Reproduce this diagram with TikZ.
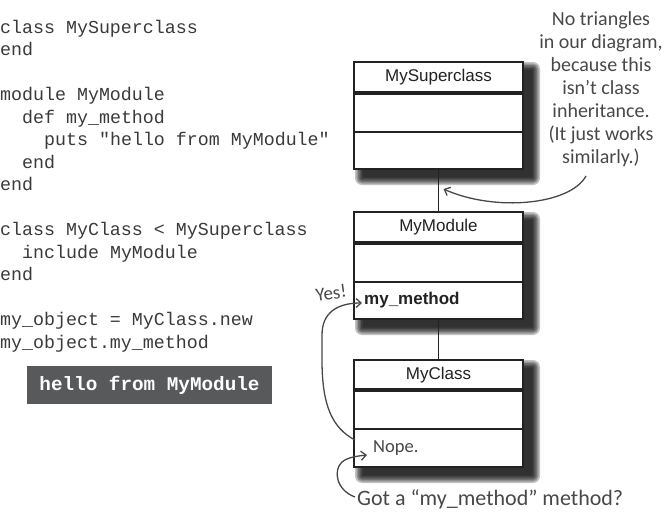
\documentclass[tikz,border=0pt]{standalone}
\usepackage{fontspec}
\setmainfont{Liberation Sans}
\newfontfamily\codefont{Liberation Mono}
\newfontfamily\handfont{Carlito}
\usetikzlibrary{arrows.meta,backgrounds}
\definecolor{ink}{HTML}{222222}
\definecolor{codeink}{HTML}{3A3A3A}
\definecolor{hand}{HTML}{484848}
\definecolor{outbox}{HTML}{58595B}
\tikzset{
  umlbox/.style={draw=ink, line width=2pt, fill=white, minimum width=169pt,
    minimum height=107pt, anchor=north west, inner sep=0pt},
  boxtitle/.style={font=\fontsize{17}{20}\selectfont, text=ink, inner sep=0pt},
  thickrule/.style={draw=ink, line width=4pt},
  thinrule/.style={draw=ink, line width=1.5pt},
  codeline/.style={anchor=base west, inner sep=0pt, font=\codefont\fontsize{18.3}{22.5}\selectfont, text=codeink},
  note/.style={font=\handfont\fontsize{20}{23}\selectfont, text=hand, align=center, inner sep=0pt},
  handarrow/.style={draw=hand, line width=1.3pt, -{Straight Barb[length=5pt,width=9pt]}},
  link/.style={draw=ink, line width=1.5pt},
  shadowlayer/.style={fill=black, opacity=0.24, rounded corners=#1},
}
\newcommand\boxshade[1]{%
  \foreach \d in {7,5.5,4,2.5,1,-0.5}{%
    \fill[shadowlayer=\d pt] ([shift={(9pt-\d pt,-8pt+\d pt)}]#1.north west)
      rectangle ([shift={(9pt+\d pt,-8pt-\d pt)}]#1.south east);
  }%
}
\begin{document}
\begin{tikzpicture}[x=1pt,y=1pt]
\useasboundingbox (0,0) rectangle (665,-520);

% code listing
\node[codeline] (c1) at (0,-33) {class MySuperclass};
\node[codeline] (c2) at (0,-55.5) {end};
\node[codeline] (c3) at (0,-100.5) {module MyModule};
\node[codeline] (c4) at (22,-123) {def my\_method};
\node[codeline] (c5) at (44,-145.5) {puts "hello from MyModule"};
\node[codeline] (c6) at (22,-168) {end};
\node[codeline] (c7) at (0,-190.5) {end};
\node[codeline] (c8) at (0,-235.5) {class MyClass < MySuperclass};
\node[codeline] (c9) at (22,-258) {include MyModule};
\node[codeline] (c10) at (0,-280.5) {end};
\node[codeline] (c11) at (0,-325.5) {my\_object = MyClass.new};
\node[codeline] (c12) at (0,-348) {my\_object.my\_method};

% output
\node[fill=outbox, minimum width=245pt, minimum height=38pt, inner sep=0pt, text=white,
  font=\codefont\bfseries\fontsize{19.3}{22}\selectfont] (out) at (149.5,-385) {hello from MyModule};

% UML boxes
\node[umlbox] (sup) at (353,-61) {};
\draw[thickrule] ([yshift=-31.5pt]sup.north west) -- ([yshift=-31.5pt]sup.north east);
\draw[thinrule] ([yshift=-71pt]sup.north west) -- ([yshift=-71pt]sup.north east);
\node[boxtitle] (supt) at ([yshift=-16pt]sup.north) {MySuperclass};

\node[umlbox] (mod) at (353,-211) {};
\draw[thickrule] ([yshift=-32pt]mod.north west) -- ([yshift=-32pt]mod.north east);
\draw[thinrule] ([yshift=-71pt]mod.north west) -- ([yshift=-71pt]mod.north east);
\node[boxtitle] (modt) at ([yshift=-16pt]mod.north) {MyModule};
\node[anchor=west, inner sep=0pt, text=ink, font=\bfseries\fontsize{17}{20}\selectfont] (meth) at (364,-300) {my\_method};

\node[umlbox] (cls) at (353,-359) {};
\draw[thickrule] ([yshift=-31pt]cls.north west) -- ([yshift=-31pt]cls.north east);
\draw[thinrule] ([yshift=-70pt]cls.north west) -- ([yshift=-70pt]cls.north east);
\node[boxtitle] (clst) at ([yshift=-16pt]cls.north) {MyClass};

\begin{scope}[on background layer]
  \boxshade{sup}
  \boxshade{mod}
  \boxshade{cls}
\end{scope}

\draw[link] (sup.south) -- (mod.north);
\draw[link] (mod.south) -- (cls.north);

% annotations
\node[note] (tri) at (601,-89) {No triangles\\in our diagram,\\because this\\isn’t class\\inheritance.\\(It just works\\similarly.)};
\node[note, rotate=8, font=\handfont\fontsize{19}{22}\selectfont] (yes) at (331,-293) {Yes!};
\node[note, anchor=west, font=\handfont\fontsize{18.5}{20}\selectfont] (nope) at (373,-448) {Nope.};
\node[note, anchor=west, font=\handfont\fontsize{22}{24}\selectfont] (got) at (357,-499) {Got a “my\_method” method?};

\coordinate (triA) at (586,-176);
\coordinate (supLink) at ([xshift=5pt,yshift=-19pt]sup.south);
\coordinate (nopeA) at (355,-440);

\draw[handarrow] (triA) .. controls (570,-205) and (495,-212) .. (supLink);
\draw[handarrow] (nopeA) .. controls (332,-428) and (322,-405) .. (322,-360)
  -- (322,-335) .. controls (322,-312) and (338,-303) .. ([xshift=-2pt,yshift=-3pt]meth.west);
\draw[handarrow] ([xshift=-2pt,yshift=2pt]got.west) .. controls (336,-490) and (333,-470) .. (342,-462)
  .. controls (348,-457) and (358,-456) .. ([xshift=-6pt,yshift=-7pt]nope.west);
\end{tikzpicture}
\end{document}
